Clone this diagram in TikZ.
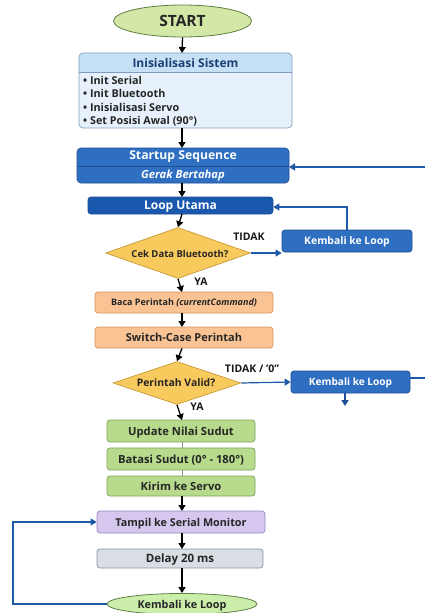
\documentclass[tikz,border=0pt]{standalone}
\usepackage{fontspec}
\setmainfont{Open Sans}
\usetikzlibrary{shapes.geometric,arrows.meta}
\definecolor{lnblue}{HTML}{1F5AA8}
\definecolor{startfill}{HTML}{D3E8A6}
\definecolor{startdraw}{HTML}{5E7F45}
\definecolor{inithead}{HTML}{C6E0F6}
\definecolor{initbody}{HTML}{E6F1FB}
\definecolor{initdraw}{HTML}{7E9DBE}
\definecolor{inittext}{HTML}{1C3F73}
\definecolor{bluefill}{HTML}{2F6FC2}
\definecolor{bluedraw}{HTML}{1E4F92}
\definecolor{darkblue}{HTML}{1A58AE}
\definecolor{diafill}{HTML}{F8C95C}
\definecolor{diadraw}{HTML}{C99B3A}
\definecolor{orfill}{HTML}{F9C394}
\definecolor{ordraw}{HTML}{D2935C}
\definecolor{grfill}{HTML}{B7DA8C}
\definecolor{grdraw}{HTML}{7EA35A}
\definecolor{pufill}{HTML}{D6C7EF}
\definecolor{pudraw}{HTML}{9A86C6}
\definecolor{gyfill}{HTML}{D9DEE4}
\definecolor{gydraw}{HTML}{8A929C}
\tikzset{
  every node/.style={font=\bfseries, inner sep=0pt},
  ctext/.style={text depth=0pt},
  rbox/.style={rectangle, rounded corners=3pt, line width=0.7pt, ctext},
  bluebox/.style={rbox, fill=bluefill, draw=bluedraw, text=white},
  orbox/.style={rbox, fill=orfill, draw=ordraw, text=black!85},
  grbox/.style={rbox, fill=grfill, draw=grdraw, text=black!85},
  dia/.style={diamond, aspect=2.8, fill=diafill, draw=diadraw, line width=0.7pt, text=black!85},
  oval/.style={ellipse, fill=startfill, draw=startdraw, line width=0.8pt, text=black!85, ctext},
  arr/.style={line width=1.3pt, -{Triangle[width=7pt,length=6pt]}},
  barr/.style={line width=1.2pt, draw=lnblue, -{Triangle[width=7pt,length=6pt]}, color=lnblue},
  lbl/.style={font=\bfseries\fontsize{10.5}{11}\selectfont, text=black!90},
}
\begin{document}
\begin{tikzpicture}[x=1pt,y=-1pt]
\useasboundingbox (0,0) rectangle (425,613);
\fill[white] (0,0) rectangle (425,613);

% START
\node[oval, minimum width=138pt, minimum height=32pt, font=\bfseries\fontsize{15.5}{16}\selectfont] (start) at (182.5,21) {START};

% Init box
\node[rectangle, rounded corners=4pt, minimum width=213pt, minimum height=75pt] (init) at (185.5,90.5) {};
\begin{scope}
\clip[rounded corners=4pt] (79,53) rectangle (292,128);
\fill[initbody] (79,53) rectangle (292,128);
\fill[inithead] (79,53) rectangle (292,72);
\end{scope}
\draw[initdraw, line width=0.7pt, rounded corners=4pt] (79,53) rectangle (292,128);
\draw[initdraw, line width=0.6pt] (79,72) -- (292,72);
\node[ctext, text=inittext, font=\bfseries\fontsize{12}{13}\selectfont] (inittitle) at (185.5,63) {Inisialisasi Sistem};
\node[anchor=north west, align=left, font=\fontsize{10.8}{13.4}\selectfont\bfseries, text=black!85] (items) at (83,76)
 {• Init Serial\\• Init Bluetooth\\• Inisialisasi Servo\\• Set Posisi Awal (90°)};

% Startup sequence
\node[rectangle, minimum width=212pt, minimum height=35pt] (startup) at (183,165.5) {};
\draw[bluedraw, fill=bluefill, rounded corners=4pt, line width=0.7pt] (77,148) rectangle (289,183);
\draw[bluedraw, line width=0.6pt] (77,166) -- (289,166);
\node[ctext, text=white, font=\bfseries\fontsize{12.2}{13}\selectfont] (sstitle) at (183,155.5) {Startup Sequence};
\node[ctext, text=white, font=\bfseries\itshape\fontsize{11.2}{12}\selectfont] (sssub) at (183,174.5) {Gerak Bertahap};

% Loop Utama
\node[bluebox, fill=darkblue, minimum width=185pt, minimum height=17pt, font=\bfseries\fontsize{12}{13}\selectfont] (loop) at (180.5,205.5) {Loop Utama};

% Diamond 1
\node[dia, minimum width=145pt, minimum height=51pt] (cek) at (178,253) {};
\node[ctext, font=\bfseries\fontsize{9.5}{10}\selectfont, text=black!85] (cektxt) at (180,254) {Cek Data Bluetooth?};

% Kembali 1
\node[bluebox, minimum width=130pt, minimum height=22pt, font=\bfseries\fontsize{10.4}{11}\selectfont] (kem1) at (347,241) {Kembali ke Loop};

% Baca & Switch
\node[orbox, minimum width=178pt, minimum height=21pt, font=\bfseries\fontsize{9}{10}\selectfont] (baca) at (184,302.5) {Baca Perintah \textit{(currentCommand)}};
\node[orbox, minimum width=178pt, minimum height=21pt, font=\bfseries\fontsize{11}{12}\selectfont] (switch) at (184,337.5) {Switch-Case Perintah};

% Diamond 2
\node[dia, minimum width=128pt, minimum height=43pt] (valid) at (177,383) {};
\node[ctext, font=\bfseries\fontsize{10.4}{11}\selectfont, text=black!85] (validtxt) at (176,383) {Perintah Valid?};

% Kembali 2
\node[bluebox, minimum width=119pt, minimum height=22pt, font=\bfseries\fontsize{10.1}{11}\selectfont] (kem2) at (350.5,382) {Kembali ke Loop};

% Green boxes
\node[grbox, minimum width=148pt, minimum height=22pt, font=\bfseries\fontsize{11.2}{12}\selectfont] (upd) at (181,431) {Update Nilai Sudut};
\node[grbox, minimum width=148pt, minimum height=22pt, font=\bfseries\fontsize{11.2}{12}\selectfont] (bat) at (181,459) {Batasi Sudut (0° - 180°)};
\node[grbox, minimum width=148pt, minimum height=20pt, font=\bfseries\fontsize{11.2}{12}\selectfont] (kirim) at (181,486) {Kirim ke Servo};

% Tampil & Delay
\node[rbox, fill=pufill, draw=pudraw, minimum width=168pt, minimum height=22pt, font=\bfseries\fontsize{10.8}{12}\selectfont, text=black!85] (tampil) at (181,522) {Tampil ke Serial Monitor};
\node[rbox, fill=gyfill, draw=gydraw, minimum width=166pt, minimum height=19pt, font=\bfseries\fontsize{11.5}{12}\selectfont, text=black!85] (delay) at (180,558.5) {Delay 20 ms};

% Kembali ellipse
\node[oval, fill=startfill!90!green!80!white, minimum width=150pt, minimum height=21pt, font=\bfseries\fontsize{10.8}{12}\selectfont] (kemend) at (182,604) {Kembali ke Loop};

% coordinates
\coordinate (rA) at (425,167);
\coordinate (rB) at (425,378);
\coordinate (k2d) at (345,406);

% main arrows
\draw[arr] (start.south) -- (182,53);
\draw[arr] (182,128) -- (182,148);
\draw[arr] (182,183) -- (182,197);
\draw[arr] (182,214) -- (cek.north);
\draw[arr] (cek.south) -- (182,292);
\draw[arr] (baca.south -| 182,0) -- (182,327);
\draw[arr] (switch.south -| 182,0) -- (valid.north);
\draw[arr] (valid.south) -- (182,420);
\draw[gydraw, line width=1pt] (182,442) -- (182,448);
\draw[gydraw, line width=1pt] (182,470) -- (182,476);
\draw[arr] (182,496) -- (182,511);
\draw[arr] (182,533) -- (182,549);
\draw[arr] (182,568) -- (kemend.north);

% blue arrows
\draw[barr] (rA) -- (289,167);
\draw[barr] (kem1.north) -- (347,207) -- (loop.east |- 0,207);
\draw[barr] (cek.east) -- (kem1.west |- cek.east);
\draw[barr] (valid.east) -- (kem2.west);
\draw[lnblue, line width=1.2pt] (kem2.east |- rB) -- (rB);
\draw[barr, color=bluedraw] (kem2.south -| k2d) -- (k2d);
\draw[barr] (kemend.west) -- (13,604) -- (13,522) -- (tampil.west);

% labels
\node[lbl] (t1) at (249,237) {TIDAK};
\node[lbl] (y1) at (201,282) {YA};
\node[lbl] (t2) at (252,369) {TIDAK / '0''};
\node[lbl] (y2) at (197,407) {YA};
\end{tikzpicture}
\end{document}
